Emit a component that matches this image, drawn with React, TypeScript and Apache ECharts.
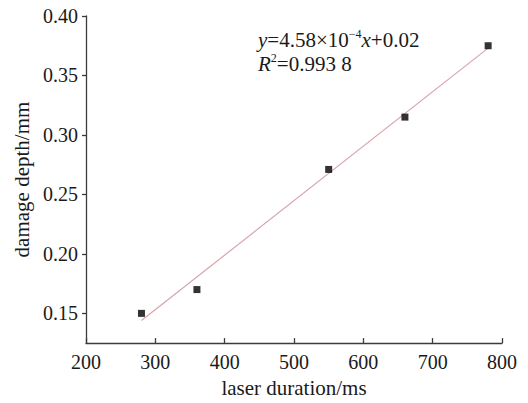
import React, { useEffect, useRef } from "react";
import * as echarts from "echarts";

const durations = [280, 360, 550, 660, 780];
const depths = [0.15, 0.17, 0.271, 0.315, 0.375];
const fitX = [280, 780];
const fitY = [0.144, 0.373];
const xTicks = [200, 300, 400, 500, 600, 700, 800];
const yTicks = [0.15, 0.2, 0.25, 0.3, 0.35, 0.4];

const FONT = "'Liberation Serif', 'Times New Roman', serif";
const AXIS = "#3d3a39";
const TXT = "#1a1a1a";

export default function App() {
  const ref = useRef<HTMLDivElement>(null);
  useEffect(() => {
    const chart = echarts.init(ref.current!, null, { renderer: "svg" });
    chart.setOption({
      animation: false,
      backgroundColor: "#ffffff",
      grid: { left: 86, right: 26, top: 16, bottom: 51 },
      xAxis: {
        type: "value",
        min: 200,
        max: 800,
        interval: 100,
        name: "laser duration/ms",
        nameLocation: "middle",
        nameGap: 29,
        nameTextStyle: { fontFamily: FONT, fontSize: 21, color: TXT },
        splitLine: { show: false },
        axisLine: { lineStyle: { color: AXIS, width: 1.3 } },
        axisTick: { inside: true, length: 5, lineStyle: { color: AXIS, width: 1.3 }, customValues: xTicks },
        axisLabel: { fontFamily: FONT, fontSize: 20, color: TXT, margin: 9, customValues: xTicks },
      },
      yAxis: {
        type: "value",
        min: 0.125,
        max: 0.4,
        name: "damage depth/mm",
        nameLocation: "middle",
        nameGap: 53,
        nameTextStyle: { fontFamily: FONT, fontSize: 21, color: TXT },
        splitLine: { show: false },
        axisLine: { show: true, lineStyle: { color: AXIS, width: 1.3 } },
        axisTick: { show: true, inside: false, length: 4, lineStyle: { color: AXIS, width: 1.3 }, customValues: yTicks },
        axisLabel: {
          fontFamily: FONT,
          fontSize: 20,
          color: TXT,
          margin: 8,
          customValues: yTicks,
          formatter: (v: number) => v.toFixed(2),
        },
      },
      series: [
        {
          type: "line",
          data: fitX.map((x, i) => [x, fitY[i]]),
          symbol: "none",
          lineStyle: { color: "#d8a4ac", width: 1.2 },
          z: 1,
        },
        {
          type: "scatter",
          data: durations.map((x, i) => [x, depths[i]]),
          symbol: "rect",
          symbolSize: 7,
          itemStyle: { color: "#000000" },
          z: 2,
        },
      ],
      graphic: [
        {
          type: "text",
          left: 258,
          top: 28,
          style: {
            text: "{i|y}=4.58×10{sup|−4}{i|x}+0.02\n{i|R}{sup|2}=0.993 8",
            font: `21px ${FONT}`,
            fill: TXT,
            lineHeight: 24,
            rich: {
              i: { fontFamily: FONT, fontSize: 21, fontStyle: "italic", fill: TXT, lineHeight: 24 },
              sup: { fontFamily: FONT, fontSize: 12, fill: TXT, verticalAlign: "top", lineHeight: 24, padding: [0, 0, 9, 0] },
            },
          },
        },
      ],
    });
    return () => chart.dispose();
  }, []);
  return (
    <div style={{ position: "absolute", left: 0, top: 0 }}>
      <div ref={ref} style={{ width: 528, height: 403 }} />
    </div>
  );
}
